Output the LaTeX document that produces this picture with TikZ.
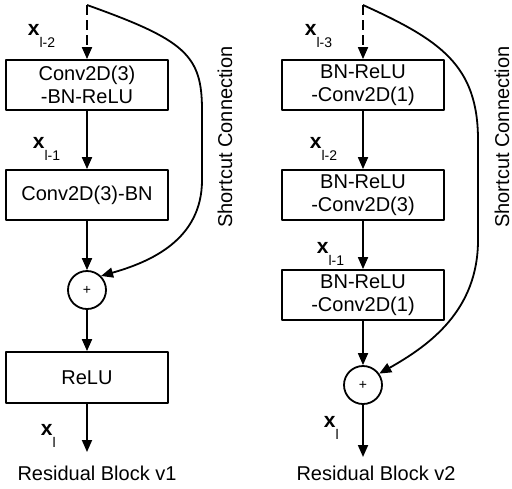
\documentclass[tikz,border=0pt]{standalone}
\usepackage{fontspec}
\setmainfont{Liberation Sans}
\usetikzlibrary{arrows.meta}
\newcommand{\xsub}[1]{\textbf{x}\raisebox{-6pt}{\fontsize{7}{8}\selectfont #1}}
\begin{document}
\begin{tikzpicture}[x=0.5pt, y=-0.5pt, line width=0.9pt, line join=round, >={Triangle[length=6pt,width=5pt]},
	font=\fontsize{10}{11.5}\selectfont,
	blk/.style={draw, minimum width=81pt, minimum height=25pt, align=center, inner sep=0pt},
	sum/.style={draw, circle, minimum size=19pt, inner sep=0pt, font=\fontsize{7}{8}\selectfont},
	lab/.style={anchor=base west, inner sep=0pt, font=\fontsize{10.5}{12}\selectfont}]
	\useasboundingbox (0,0) rectangle (512,488);
	\path 
	(87,5) coordinate (in1)
	(87,452) coordinate (out1)
	(363,5) coordinate (in2)
	(363,457) coordinate (out2)
	;
	% v1
	\node[blk] (c1) at (87,85) {Conv2D(3)\\-BN-ReLU};
	\node[blk] (c2) at (87,195) {Conv2D(3)-BN};
	\node[sum] (p1) at (87,290) {+};
	\node[blk, minimum height=25.5pt] (r1) at (87,377.5) {ReLU};
	\draw[->, dash pattern=on 5pt off 2.5pt] (in1) -- (c1);
	\draw[->] (c1) -- (c2);
	\draw[->] (c2) -- (p1);
	\draw[->] (p1) -- (r1);
	\draw[->] (r1) -- (out1);
	\draw[->] (in1) .. controls (185,40) and (202,55) .. (202,110) -- (202,180)
		.. controls (202,240) and (150,262) .. (p1.45);
	% v2
	\node[blk] (b1) at (363,85) {BN-ReLU\\-Conv2D(1)};
	\node[blk] (b2) at (363,195) {BN-ReLU\\-Conv2D(3)};
	\node[blk] (b3) at (363,295) {BN-ReLU\\-Conv2D(1)};
	\node[sum] (p2) at (363,385) {+};
	\draw[->, dash pattern=on 5pt off 2.5pt] (in2) -- (b1);
	\draw[->] (b1) -- (b2);
	\draw[->] (b2) -- (b3);
	\draw[->] (b3) -- (p2);
	\draw[->] (p2) -- (out2);
	\draw[->] (in2) .. controls (440,40) and (478,65) .. (478,140) -- (478,240)
		.. controls (478,310) and (430,345) .. (p2.35);
	% labels
	\foreach \n/\p/\s in {a/{27,35}/l-2, b/{32,148}/l-1, c/{40,435}/l, d/{304,35}/l-3, e/{309,148}/l-2, f/{316,253}/l-1, g/{323,427}/l}
	\node[lab] (x\n) at (\p) {\xsub{\s}};
	\node[rotate=90] (s1) at (225,137) {Shortcut Connection};
	\node[rotate=90] (s2) at (502,137) {Shortcut Connection};
	\node (t1) at (97,473) {Residual Block v1};
	\node (t2) at (376,473) {Residual Block v2};
\end{tikzpicture}
\end{document}
